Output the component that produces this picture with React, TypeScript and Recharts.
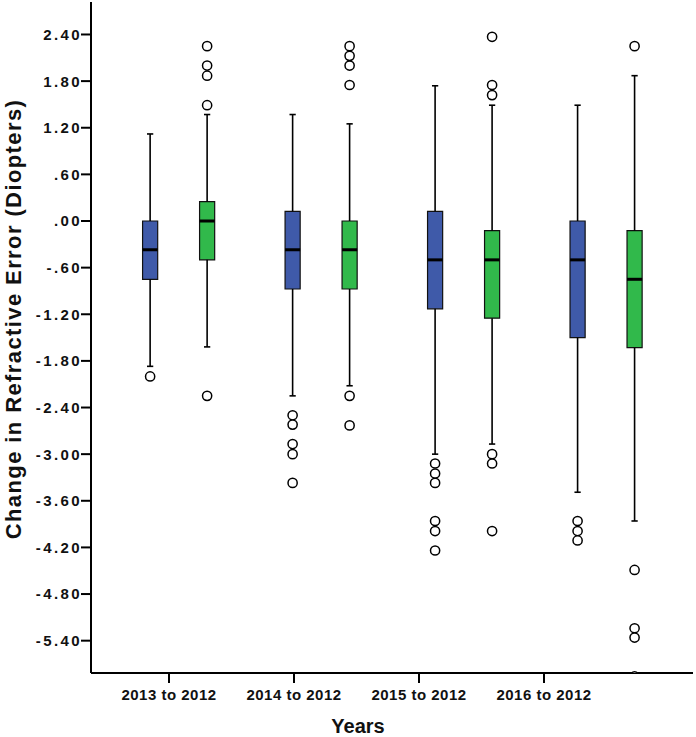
import React from 'react';
import {
  ComposedChart,
  XAxis,
  YAxis,
  Scatter,
  ReferenceArea,
  ReferenceLine,
} from 'recharts';

const categories = ['2013 to 2012', '2014 to 2012', '2015 to 2012', '2016 to 2012'];
const yTicks = [2.4, 1.8, 1.2, 0.6, 0, -0.6, -1.2, -1.8, -2.4, -3.0, -3.6, -4.2, -4.8, -5.4];

// blue boxes
const blueWhiskerHigh = [1.12, 1.37, 1.74, 1.49];
const blueQ3 = [0.0, 0.125, 0.125, 0.0];
const blueMedian = [-0.37, -0.37, -0.5, -0.5];
const blueQ1 = [-0.75, -0.875, -1.13, -1.5];
const blueWhiskerLow = [-1.87, -2.25, -3.0, -3.49];
const blueOutliers = [
  [-2.0],
  [-2.5, -2.62, -2.87, -3.0, -3.37],
  [-3.12, -3.25, -3.37, -3.86, -3.99, -4.24],
  [-3.86, -3.99, -4.11],
];

// green boxes
const greenWhiskerHigh = [1.37, 1.25, 1.49, 1.87];
const greenQ3 = [0.25, 0.0, -0.125, -0.125];
const greenMedian = [0.0, -0.37, -0.5, -0.75];
const greenQ1 = [-0.5, -0.875, -1.25, -1.63];
const greenWhiskerLow = [-1.62, -2.12, -2.87, -3.86];
const greenOutliers = [
  [1.49, 1.87, 2.0, 2.25, -2.25],
  [1.75, 2.0, 2.125, 2.25, -2.25, -2.63],
  [1.62, 1.75, 2.37, -3.0, -3.12, -3.99],
  [2.25, -4.49, -5.24, -5.36, -5.86],
];

const BLUE = '#3f5aa9';
const GREEN = '#31b94b';
const FONT = '"Liberation Sans", Arial, Helvetica, sans-serif';
const HALF_BOX = 0.053;
const HALF_CAP = 0.022;

const groups = [
  { name: 'blue', color: BLUE, offset: -0.2, hi: blueWhiskerHigh, q3: blueQ3, med: blueMedian, q1: blueQ1, lo: blueWhiskerLow, out: blueOutliers },
  { name: 'green', color: GREEN, offset: 0.2, hi: greenWhiskerHigh, q3: greenQ3, med: greenMedian, q1: greenQ1, lo: greenWhiskerLow, out: greenOutliers },
];

const fmtY = (v: number) => {
  const s = Math.abs(v).toFixed(2).replace(/^0/, '');
  return v < 0 ? '-' + s : s;
};

const outlierPoints = groups.flatMap((g) =>
  g.out.flatMap((vals, i) => vals.map((y) => ({ x: i + g.offset, y })))
);

const Ring = (props: any) => {
  const { cx, cy } = props;
  return <circle cx={cx} cy={cy} r={4.6} fill='#fff' stroke='#000' strokeWidth={1.5} />;
};

const YTick = (props: any) => {
  const { x, y, payload } = props;
  return (
    <text
      x={x + 2}
      y={y}
      dy='0.36em'
      textAnchor='end'
      fontSize={15}
      fontWeight={700}
      fontFamily={FONT}
      letterSpacing={2.4}
      fill='#111'
    >
      {fmtY(payload.value)}
    </text>
  );
};

const XTick = (props: any) => {
  const { x, y, payload } = props;
  return (
    <text
      x={x}
      y={y}
      dy='0.72em'
      textAnchor='middle'
      fontSize={15}
      fontWeight={700}
      fontFamily={FONT}
      letterSpacing={0.5}
      fill='#111'
    >
      {categories[payload.value]}
    </text>
  );
};

const App = () => {
  const areas: any[] = [];
  const lines: any[] = [];
  groups.forEach((g) => {
    categories.forEach((_, i) => {
      const x = i + g.offset;
      const common = { xAxisId: 'box', yAxisId: 'left', stroke: '#000' } as any;
      lines.push(
        <ReferenceLine key={`${g.name}-wu-${i}`} {...common} strokeWidth={1.6} segment={[{ x, y: g.hi[i] }, { x, y: g.q3[i] }]} />,
        <ReferenceLine key={`${g.name}-wl-${i}`} {...common} strokeWidth={1.6} segment={[{ x, y: g.q1[i] }, { x, y: g.lo[i] }]} />,
        <ReferenceLine key={`${g.name}-cu-${i}`} {...common} strokeWidth={1.6} segment={[{ x: x - HALF_CAP, y: g.hi[i] }, { x: x + HALF_CAP, y: g.hi[i] }]} />,
        <ReferenceLine key={`${g.name}-cl-${i}`} {...common} strokeWidth={1.6} segment={[{ x: x - HALF_CAP, y: g.lo[i] }, { x: x + HALF_CAP, y: g.lo[i] }]} />
      );
      areas.push(
        <ReferenceArea
          key={`${g.name}-box-${i}`}
          xAxisId='box'
          yAxisId='left'
          x1={x - HALF_BOX}
          x2={x + HALF_BOX}
          y1={g.q1[i]}
          y2={g.q3[i]}
          fill={g.color}
          fillOpacity={1}
          stroke='#111'
          strokeWidth={1.2}
        />
      );
      lines.push(
        <ReferenceLine key={`${g.name}-med-${i}`} {...common} strokeWidth={3} segment={[{ x: x - HALF_BOX, y: g.med[i] }, { x: x + HALF_BOX, y: g.med[i] }]} />
      );
    });
  });

  return (
    <div style={{ position: 'absolute', left: 0, top: 0, background: '#fff' }}>
      <ComposedChart width={696} height={737} margin={{ top: 2, right: 3, bottom: 0, left: 0 }}>
        <XAxis
          xAxisId='labels'
          type='number'
          dataKey='x'
          domain={[-0.624, 4.192]}
          allowDataOverflow
          ticks={[0, 1, 2, 3]}
          interval={0}
          height={64}
          axisLine={{ stroke: '#000', strokeWidth: 2 }}
          tickLine={{ stroke: '#000', strokeWidth: 2 }}
          tickSize={10}
          tickMargin={6}
          tick={<XTick />}
          label={{
            content: () => (
              <text x={358} y={733} textAnchor='middle' fontSize={20} fontWeight={700} fontFamily={FONT} fill='#111'>
                Years
              </text>
            ),
          }}
        />
        <XAxis xAxisId='box' type='number' dataKey='x' domain={[-0.615, 3.61]} allowDataOverflow hide height={0} />
        <XAxis
          xAxisId='top'
          orientation='top'
          type='number'
          domain={[0, 1]}
          height={0}
          tick={false}
          tickLine={false}
          axisLine={{ stroke: '#000', strokeWidth: 2 }}
        />
        <YAxis
          yAxisId='left'
          type='number'
          dataKey='y'
          domain={[-5.816, 2.818]}
          allowDataOverflow
          ticks={yTicks}
          interval={0}
          width={91}
          axisLine={{ stroke: '#000', strokeWidth: 2 }}
          tickLine={{ stroke: '#000', strokeWidth: 2 }}
          tickSize={10}
          tickMargin={1}
          tick={<YTick />}
          label={{
            content: () => (
              <text
                x={13}
                y={319}
                transform='rotate(-90 13 319)'
                textAnchor='middle'
                dominantBaseline='central'
                fontSize={22}
                fontWeight={700}
                fontFamily={FONT}
                letterSpacing={1.4}
                fill='#111'
              >
                Change in Refractive Error (Diopters)
              </text>
            ),
          }}
        />
        <YAxis
          yAxisId='right'
          orientation='right'
          type='number'
          domain={[-5.816, 2.818]}
          width={0}
          tick={false}
          tickLine={false}
          axisLine={{ stroke: '#000', strokeWidth: 2 }}
        />
        {areas}
        {lines}
        <Scatter
          xAxisId='box'
          yAxisId='left'
          data={outlierPoints}
          dataKey='y'
          shape={<Ring />}
          isAnimationActive={false}
        />
      </ComposedChart>
    </div>
  );
};

export default App;
